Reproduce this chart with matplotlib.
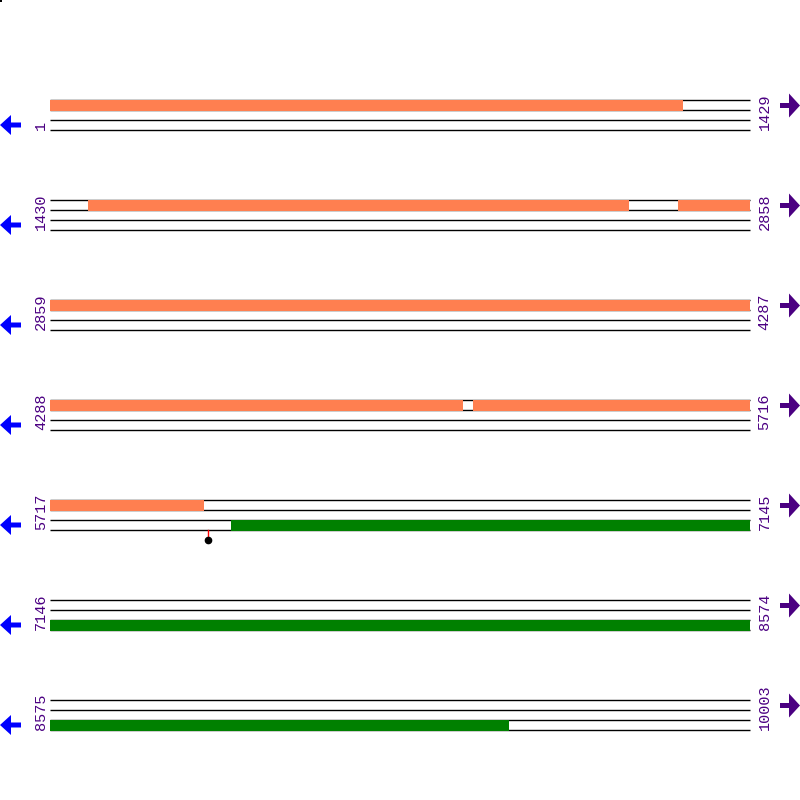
import matplotlib
matplotlib.use('Agg')
import matplotlib.pyplot as plt
from matplotlib.patches import Polygon, Rectangle

# ── data ──────────────────────────────
SEQ_LEN = 10003
ROW_LEN = 1429
fwd_features = [(1, 1292), (1508, 2610), (2712, 5131), (5152, 6031)]   # coral, top strand
rev_features = [(6086, 9510)]                                          # green, bottom strand
sites = [6040]
# ──────────────────────────────────────

FWD_COLOR = '#FF7F50'
REV_COLOR = '#008000'
TXT_COLOR = '#4B0082'
X0, X1 = 50, 750
TOP, STEP = 100, 100

n_rows = (SEQ_LEN + ROW_LEN - 1) // ROW_LEN


def xpos(bp, row):
    start = row * ROW_LEN + 1
    return X0 + (bp - start) / ROW_LEN * (X1 - X0)


fig = plt.figure(figsize=(8, 8), dpi=100)
ax = fig.add_axes([0, 0, 1, 1])
ax.set_xlim(0, 800)
ax.set_ylim(800, 0)
ax.axis('off')

for r in range(n_rows):
    y = TOP + r * STEP
    start = r * ROW_LEN + 1
    end = min((r + 1) * ROW_LEN, SEQ_LEN)
    for dy in (0, 10, 20, 30):
        ax.plot([X0, X1], [y + dy, y + dy], color='black', lw=1, zorder=1,
                solid_capstyle='butt')

    for feats, off, col in ((fwd_features, 0, FWD_COLOR), (rev_features, 20, REV_COLOR)):
        for a, b in feats:
            lo, hi = max(a, start), min(b, end)
            if lo > hi:
                continue
            xa = xpos(lo, r)
            xb = xpos(hi + 1, r)
            ax.add_patch(Rectangle((xa, y + off - 0.5), xb - xa, 11, color=col,
                                   lw=0, zorder=2))

    for s in sites:
        if start <= s <= end:
            xs = xpos(s, r)
            ax.plot([xs, xs], [y + 30, y + 38], color='red', lw=1, zorder=3)
            ax.plot(xs, y + 40, 'o', color='black', ms=4.5, zorder=4)

    ax.text(41, y + 30, str(start), rotation=90, ha='center', va='bottom',
            color=TXT_COLOR, fontsize=11, family='Liberation Mono')
    ax.text(764.5, y + 30, str(end), rotation=90, ha='center', va='bottom',
            color=TXT_COLOR, fontsize=11, family='Liberation Mono')

    # strand arrows
    yl = y + 25
    ax.add_patch(Polygon([(0, yl), (11, yl - 10), (11, yl - 2.5), (21, yl - 2.5),
                          (21, yl + 2.5), (11, yl + 2.5), (11, yl + 10)],
                         closed=True, color='blue', lw=0))
    yr = y + 5.5
    ax.add_patch(Polygon([(800, yr), (789, yr - 12), (789, yr - 2.5), (780, yr - 2.5),
                          (780, yr + 2.5), (789, yr + 2.5), (789, yr + 12)],
                         closed=True, color=TXT_COLOR, lw=0))

ax.add_patch(Rectangle((0, 0), 2, 2, color='black', lw=0))

fig.savefig('out.png', dpi=100)
